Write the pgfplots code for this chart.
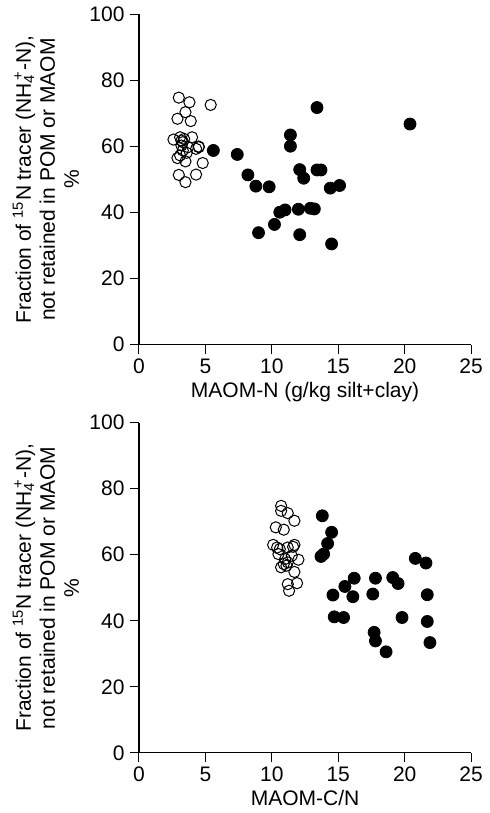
\documentclass[border=0pt]{standalone}
\usepackage{fontspec}
\setmainfont{Liberation Sans}
\usepackage{pgfplots}
\pgfplotsset{compat=1.18}
\begin{document}
\fontsize{10.5}{12.5}\selectfont
\pgfplotsset{
  panel/.style={
    scale only axis, width=166pt, height=165pt,
    xmin=0, xmax=25, ymin=0, ymax=100,
    axis lines=left, axis line style={-, line width=0.6pt},
    xtick={0,5,...,25}, ytick={0,20,...,100},
    tick align=outside, major tick length=4.5pt,
    tick style={black, line width=0.5pt},
    every tick label/.append style={font=\fontsize{10.5}{12}\selectfont},
    xticklabel style={yshift=1pt},
    yticklabel style={xshift=1pt},
    /pgf/number format/assume math mode=true,
    ylabel style={align=center, font=\fontsize{10.5}{12}\selectfont, yshift=-2pt},
    xlabel style={font=\fontsize{10.5}{12}\selectfont, yshift=3pt},
    ylabel={Fraction of \textsuperscript{15}N tracer (NH\textsubscript{4}\kern-0.3em\textsuperscript{+}-N),\\not retained in POM or MAOM\\\%},
    clip=false,
  },
  opn/.style={only marks, mark=o, mark size=2.8pt, mark options={line width=0.5pt, draw=black}},
  fil/.style={only marks, mark=*, mark size=3pt, mark options={draw=black, fill=black}},
}
\begin{tikzpicture}
\begin{axis}[panel, xlabel={MAOM-N (g/kg silt+clay)}]
\addplot[opn] coordinates {
(3.0,74.8) (3.8,73.4) (5.4,72.6) (3.5,70.4) (2.9,68.4) (3.9,67.7)
(2.6,62.1) (3.1,62.8) (3.4,62.3) (4.0,62.8) (4.5,60.0) (4.3,59.3)
(3.7,59.8) (3.2,60.3) (3.3,58.8) (3.1,57.3) (2.9,56.5) (3.5,55.5)
(4.8,55.0) (3.0,51.4) (3.5,49.2) (4.3,51.5) (3.3,61.3) (3.6,58.1)
(3.2,61.8) (4.5,59.8)
};
\addplot[fil] coordinates {
(5.6,58.8) (7.4,57.6) (8.2,51.4) (8.8,48.0) (9.8,47.8) (9.0,33.9)
(10.2,36.4) (10.6,40.1) (11.0,40.8) (11.4,63.5) (11.4,60.1) (12.1,53.0)
(12.4,50.4) (12.0,41.0) (12.1,33.3) (13.4,71.8) (13.4,52.9) (13.7,52.9)
(12.9,41.3) (13.2,41.1) (14.4,47.4) (15.1,48.2) (14.5,30.5) (20.4,66.8)
};
\end{axis}
\begin{axis}[panel, at={(0,-204pt)}, xlabel={MAOM-C/N}]
\addplot[opn] coordinates {
(10.7,74.8) (10.7,73.3) (11.2,72.6) (11.7,70.3) (10.3,68.3) (10.9,67.6)
(10.1,63.0) (10.4,62.2) (11.7,63.0) (11.6,62.4) (11.2,62.2) (10.5,60.2)
(11.5,59.7) (12.0,58.5) (11.0,58.7) (10.9,57.2) (10.7,56.2) (11.2,57.7)
(11.7,54.8) (11.2,51.1) (11.9,51.4) (11.3,49.1) (10.6,61.7) (11.1,56.7)
};
\addplot[fil] coordinates {
(13.8,71.8) (14.5,66.8) (14.2,63.4) (13.9,60.2) (13.7,59.5) (20.8,58.9)
(21.6,57.5) (16.2,52.9) (17.8,52.9) (19.1,53.1) (19.5,51.3) (15.5,50.4)
(14.6,47.8) (16.1,47.3) (17.6,48.1) (21.7,47.9) (14.7,41.2) (15.4,41.0)
(19.8,41.0) (21.7,39.8) (17.7,36.5) (17.8,33.9) (18.6,30.6) (21.9,33.4)
};
\end{axis}
\end{tikzpicture}
\end{document}
